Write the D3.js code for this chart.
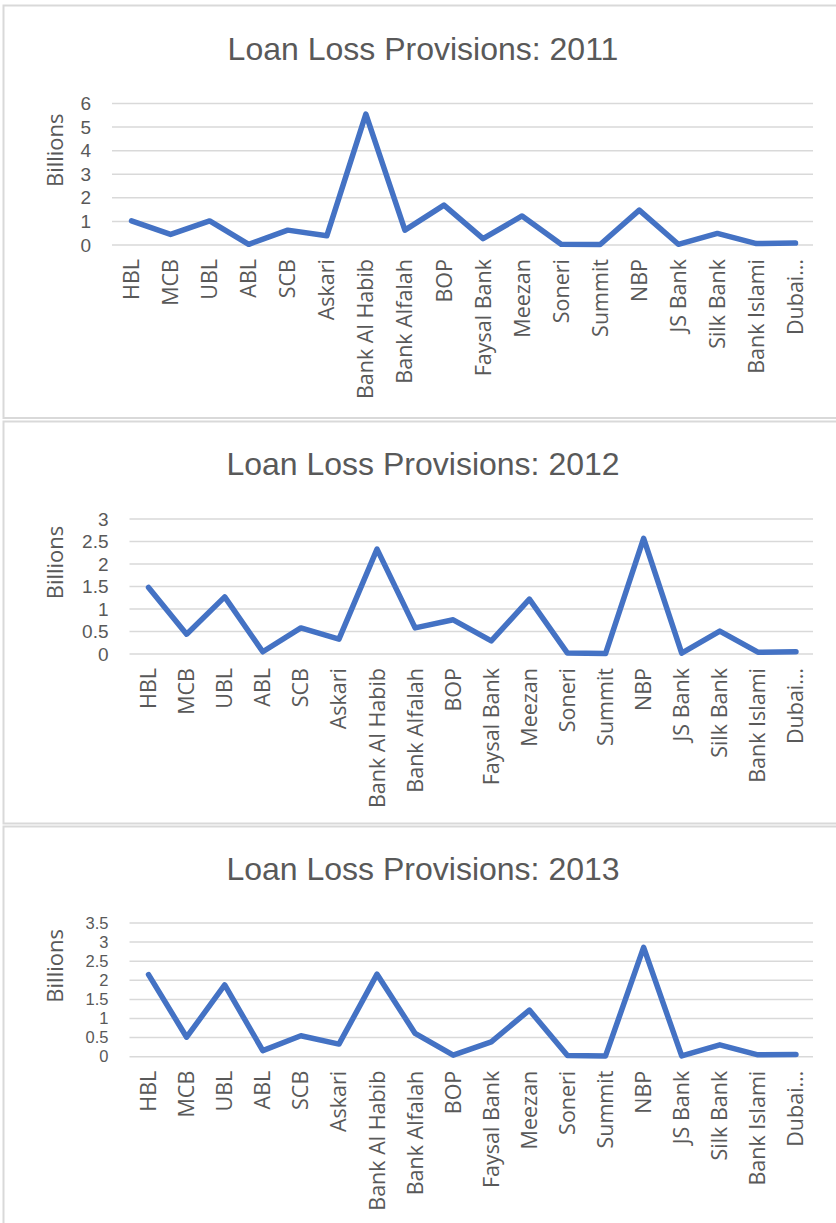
<!DOCTYPE html>
<html>
<head>
<meta charset="utf-8">
<script src="https://cdn.jsdelivr.net/npm/d3@7"></script>
<style>
  html, body { margin: 0; padding: 0; background: #fff; }
  svg { display: block; }
</style>
</head>
<body>
<script>
// ---- Data ----
const categories = ["HBL", "MCB", "UBL", "ABL", "SCB", "Askari", "Bank Al Habib", "Bank Alfalah", "BOP",
  "Faysal Bank", "Meezan", "Soneri", "Summit", "NBP", "JS Bank", "Silk Bank", "Bank Islami", "Dubai…"];

const values2011 = [1.02, 0.45, 1.02, 0.03, 0.63, 0.39, 5.55, 0.63, 1.69, 0.27, 1.23, 0.03, 0.02, 1.48, 0.03, 0.49, 0.06, 0.08];
const values2012 = [1.48, 0.44, 1.27, 0.05, 0.58, 0.33, 2.33, 0.58, 0.76, 0.29, 1.22, 0.02, 0.01, 2.57, 0.02, 0.51, 0.04, 0.05];
const values2013 = [2.15, 0.51, 1.88, 0.16, 0.55, 0.33, 2.16, 0.61, 0.04, 0.39, 1.22, 0.03, 0.02, 2.86, 0.02, 0.31, 0.05, 0.06];

const ticks2011 = [0, 1, 2, 3, 4, 5, 6];
const ticks2012 = [0, 0.5, 1, 1.5, 2, 2.5, 3];
const ticks2013 = [0, 0.5, 1, 1.5, 2, 2.5, 3, 3.5];

const titles = ["Loan Loss Provisions: 2011", "Loan Loss Provisions: 2012", "Loan Loss Provisions: 2013"];
const yAxisTitle = "Billions";

// ---- Drawing ----
const W = 836, H = 1223;
const svg = d3.select("body").append("svg").attr("width", W).attr("height", H);

const panels = [
  { values: values2011, ticks: ticks2011, title: titles[0], top: 5.5, bottom: 418, x0: 112, y0: 245, y1: 103.5, titleY: 60, tickFont: 19 },
  { values: values2012, ticks: ticks2012, title: titles[1], top: 421.5, bottom: 823.5, x0: 129.5, y0: 654, y1: 519, titleY: 475, tickFont: 19 },
  { values: values2013, ticks: ticks2013, title: titles[2], top: 826.5, bottom: 1300, x0: 129.5, y0: 1056.7, y1: 923, titleY: 880, tickFont: 16.5 }
];

const textColor = "#595959";
const gridColor = "#d9d9d9";
const lineColor = "#4472C4";

panels.forEach(p => {
  const g = svg.append("g");

  // panel border
  g.append("rect")
    .attr("x", 3.5).attr("y", p.top)
    .attr("width", 900).attr("height", p.bottom - p.top)
    .attr("fill", "none").attr("stroke", gridColor).attr("stroke-width", 2);

  const x = d3.scaleBand().domain(categories).range([p.x0, 815]);
  const y = d3.scaleLinear().domain([0, d3.max(p.ticks)]).range([p.y0, p.y1]);

  // title
  g.append("text")
    .attr("x", 423).attr("y", p.titleY)
    .attr("text-anchor", "middle")
    .attr("font-family", "Liberation Sans, Arial, sans-serif")
    .attr("font-size", 32)
    .attr("fill", textColor)
    .text(p.title);

  // gridlines
  g.append("g").selectAll("line").data(p.ticks).join("line")
    .attr("x1", p.x0).attr("x2", 813)
    .attr("y1", d => y(d)).attr("y2", d => y(d))
    .attr("stroke", gridColor).attr("stroke-width", 1.5);

  // y axis tick labels
  const yAxis = d3.axisLeft(y).tickValues(p.ticks).tickSize(0).tickPadding(0).tickFormat(d3.format("~g"));
  const ya = g.append("g").attr("transform", `translate(${p.x0 - 21},0)`).call(yAxis);
  ya.select(".domain").remove();
  ya.selectAll("text")
    .attr("font-family", "Liberation Sans, Arial, sans-serif")
    .attr("font-size", p.tickFont)
    .attr("fill", textColor);

  // y axis title
  const ymid = (p.y0 + p.y1) / 2 - 24;
  g.append("text")
    .attr("transform", `translate(55,${ymid}) rotate(-90)`)
    .attr("text-anchor", "middle")
    .attr("dy", "0.35em")
    .attr("font-family", "Open Sans, sans-serif")
    .attr("font-size", 22)
    .attr("fill", textColor)
    .text(yAxisTitle);

  // x axis labels
  const xAxis = d3.axisBottom(x).tickSize(0).tickPadding(0);
  const xa = g.append("g").attr("transform", `translate(0,${p.y0})`).call(xAxis);
  xa.select(".domain").remove();
  xa.selectAll("text")
    .attr("transform", "rotate(-90)")
    .attr("x", -14).attr("y", 0)
    .attr("dy", "0.35em")
    .attr("text-anchor", "end")
    .attr("font-family", "Open Sans, sans-serif")
    .attr("font-size", 21.5)
    .attr("fill", textColor);

  // line
  const line = d3.line()
    .x((d, i) => x(categories[i]) + x.bandwidth() / 2)
    .y(d => y(d));
  g.append("path")
    .datum(p.values)
    .attr("d", line)
    .attr("fill", "none")
    .attr("stroke", lineColor)
    .attr("stroke-width", 5.5)
    .attr("stroke-linejoin", "round")
    .attr("stroke-linecap", "round");
});
</script>
</body>
</html>
